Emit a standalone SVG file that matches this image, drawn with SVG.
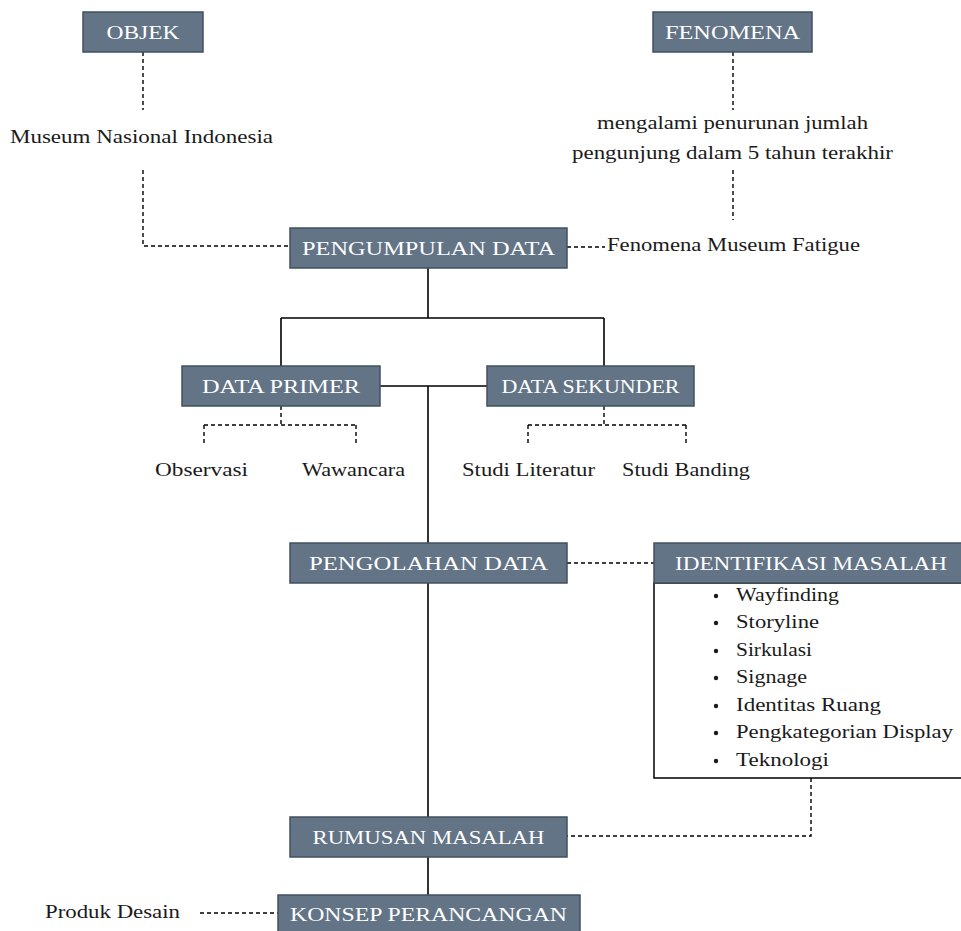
<svg xmlns="http://www.w3.org/2000/svg" width="961" height="931" viewBox="0 0 961 931">
<style>
.box{fill:#637486;stroke:#41505f;stroke-width:1.5}
.bt{font-family:"Liberation Serif","DejaVu Serif","Noto Serif","Times New Roman",Times,serif;font-size:19px;fill:#ffffff;text-anchor:middle}
.t{font-family:"Liberation Serif","DejaVu Serif","Noto Serif","Times New Roman",Times,serif;font-size:18px;fill:#1a1a1a}
.solid{stroke:#000;stroke-width:1.6;fill:none}
.dash{stroke:#000;stroke-width:1.4;fill:none;stroke-dasharray:4 3}
</style>
<rect width="961" height="931" fill="#ffffff"/>
<g id="connectors">
<path class="dash" d="M143 52 V110"/>
<path class="dash" d="M143 170 V246 H290"/>
<path class="dash" d="M733 52 V110"/>
<path class="dash" d="M733 170 V220"/>
<path class="dash" d="M567 247 H605"/>
<path class="solid" d="M428 268 V318 M281 318 H604 M281 318 V366 M604 318 V366"/>
<path class="solid" d="M380 386 H487 M428 386 V543"/>
<path class="dash" d="M281 406 V425 M204 425 H356 M204 425 V445 M356 425 V445"/>
<path class="dash" d="M604 406 V425 M528 425 H686 M528 425 V445 M686 425 V445"/>
<path class="dash" d="M567 563 H654"/>
<path class="solid" d="M428 583 V817 M428 857 V895"/>
<path class="dash" d="M811 778 V836 H567"/>
<path class="dash" d="M200 913 H278"/>
</g>
<g id="objek"><rect class="box" x="83" y="12" width="120" height="40"/><text class="bt" x="143" y="39" textLength="73" lengthAdjust="spacingAndGlyphs">OBJEK</text></g>
<g id="fenomena"><rect class="box" x="653" y="12" width="159" height="40"/><text class="bt" x="732.5" y="39" textLength="135" lengthAdjust="spacingAndGlyphs">FENOMENA</text></g>
<g id="museum"><text class="t" x="141.5" y="143" text-anchor="middle" textLength="263" lengthAdjust="spacingAndGlyphs">Museum Nasional Indonesia</text></g>
<g id="penurunan"><text class="t" x="732.5" y="129" text-anchor="middle" textLength="271" lengthAdjust="spacingAndGlyphs">mengalami penurunan jumlah</text><text class="t" x="732.5" y="159" text-anchor="middle" textLength="321" lengthAdjust="spacingAndGlyphs">pengunjung dalam 5 tahun terakhir</text></g>
<g id="pengumpulan"><rect class="box" x="290" y="228" width="277" height="40"/><text class="bt" x="428.5" y="255" textLength="253" lengthAdjust="spacingAndGlyphs">PENGUMPULAN DATA</text></g>
<g id="fatigue"><text class="t" x="607" y="251" textLength="253" lengthAdjust="spacingAndGlyphs">Fenomena Museum Fatigue</text></g>
<g id="primer"><rect class="box" x="182" y="366" width="198" height="40"/><text class="bt" x="281" y="393" textLength="158" lengthAdjust="spacingAndGlyphs">DATA PRIMER</text></g>
<g id="sekunder"><rect class="box" x="487" y="366" width="207" height="40"/><text class="bt" x="590.5" y="393" textLength="178" lengthAdjust="spacingAndGlyphs">DATA SEKUNDER</text></g>
<g id="observasi"><text class="t" x="155" y="476" textLength="93" lengthAdjust="spacingAndGlyphs">Observasi</text></g>
<g id="wawancara"><text class="t" x="302" y="476" textLength="103" lengthAdjust="spacingAndGlyphs">Wawancara</text></g>
<g id="literatur"><text class="t" x="462" y="476" textLength="133" lengthAdjust="spacingAndGlyphs">Studi Literatur</text></g>
<g id="banding"><text class="t" x="622" y="476" textLength="128" lengthAdjust="spacingAndGlyphs">Studi Banding</text></g>
<g id="pengolahan"><rect class="box" x="290" y="543" width="277" height="40"/><text class="bt" x="428.5" y="570" textLength="239" lengthAdjust="spacingAndGlyphs">PENGOLAHAN DATA</text></g>
<g id="identifikasi">
<rect x="654" y="583" width="320" height="195" fill="#ffffff" stroke="#000" stroke-width="1.5"/>
<rect class="box" x="654" y="543" width="320" height="40"/><text class="bt" x="811" y="570" textLength="272" lengthAdjust="spacingAndGlyphs">IDENTIFIKASI MASALAH</text>
<g class="t">
<text x="736" y="601" textLength="103" lengthAdjust="spacingAndGlyphs">Wayfinding</text>
<text x="736" y="628" textLength="83" lengthAdjust="spacingAndGlyphs">Storyline</text>
<text x="736" y="656" textLength="76" lengthAdjust="spacingAndGlyphs">Sirkulasi</text>
<text x="736" y="683" textLength="71" lengthAdjust="spacingAndGlyphs">Signage</text>
<text x="736" y="711" textLength="145" lengthAdjust="spacingAndGlyphs">Identitas Ruang</text>
<text x="736" y="738" textLength="217" lengthAdjust="spacingAndGlyphs">Pengkategorian Display</text>
<text x="736" y="766" textLength="93" lengthAdjust="spacingAndGlyphs">Teknologi</text>
</g>
<g fill="#1a1a1a">
<circle cx="716" cy="596" r="2.2"/><circle cx="716" cy="623" r="2.2"/><circle cx="716" cy="651" r="2.2"/><circle cx="716" cy="678" r="2.2"/><circle cx="716" cy="706" r="2.2"/><circle cx="716" cy="733" r="2.2"/><circle cx="716" cy="761" r="2.2"/>
</g>
</g>
<g id="rumusan"><rect class="box" x="290" y="817" width="277" height="40"/><text class="bt" x="428.5" y="844" textLength="232" lengthAdjust="spacingAndGlyphs">RUMUSAN MASALAH</text></g>
<g id="konsep"><rect class="box" x="278" y="895" width="302" height="40"/><text class="bt" x="428.5" y="921" textLength="277" lengthAdjust="spacingAndGlyphs">KONSEP PERANCANGAN</text></g>
<g id="produk"><text class="t" x="45" y="918" textLength="135" lengthAdjust="spacingAndGlyphs">Produk Desain</text></g>
</svg>
